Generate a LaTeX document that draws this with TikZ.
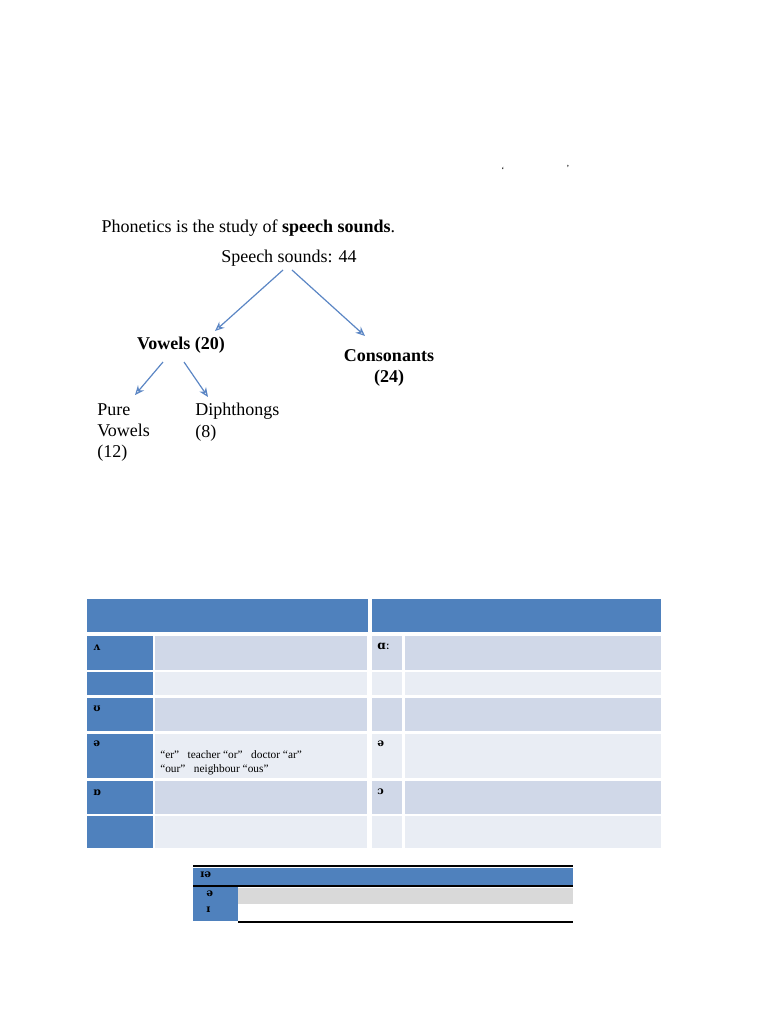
\documentclass[tikz,border=0pt]{standalone}
\usepackage{fontspec}
\setmainfont{Liberation Serif}
\newfontfamily\ipa{DejaVu Serif}
\usetikzlibrary{arrows.meta, positioning}
\definecolor{hdblue}{HTML}{4F81BD}
\definecolor{rowdark}{HTML}{D0D8E8}
\definecolor{rowlight}{HTML}{E9EDF4}
\definecolor{arrblue}{HTML}{5B86C4}
\begin{document}
\begin{tikzpicture}[x=0.75pt, y=-0.75pt,
  every node/.style={font=\fontsize{13.5}{16}\selectfont},
  tree/.style={-{Stealth[length=7pt,width=6pt,open]}, arrblue, line width=0.9pt},
  sym/.style={anchor=north west, inner sep=0pt, font=\ipa\bfseries\fontsize{8}{9}\selectfont},
  small/.style={anchor=north west, inner sep=0pt, align=left, font=\fontsize{8.5}{10.5}\selectfont}]
  \useasboundingbox (0,0) rectangle (768,1024);

  % Stray quotes
  \node (ql) at (503,170) {\fontsize{7}{8}\selectfont ‘};
  \node (qr) at (568,168) {\fontsize{7}{8}\selectfont ’};

  % Tree
  \node (title) [anchor=west] at (97,228) {Phonetics is the study of \textbf{speech sounds}.};
  \node (root) at (289,258) {Speech sounds: 44};
  \node (vow) at (181,345) {\textbf{Vowels (20)}};
  \node (cons) [align=center] at (389,368) {\textbf{Consonants}\\\textbf{(24)}};
  \node (pure) [anchor=north west, align=left, inner sep=0pt] at (97,403) {Pure\\Vowels\\(12)};
  \node (diph) [anchor=north west, align=left, inner sep=0pt] at (195,403) {Diphthongs\\(8)};
  \coordinate (r1) at (283,270);
  \coordinate (r2) at (292,270);
  \coordinate (v1) at (163,362);
  \coordinate (v2) at (184,362);
  \draw[tree] (r1) -- (215,331);
  \draw[tree] (r2) -- (365,336);
  \draw[tree] (v1) -- (135,395);
  \draw[tree] (v2) -- (208,397);

  % Vowel table
  \fill[hdblue] (87,599) rectangle (368,632);
  \fill[hdblue] (372,599) rectangle (661,632);
  \foreach \ya/\yb/\c in {636/670/rowdark, 672/695/rowlight, 698/731/rowdark,
                          734/778/rowlight, 781/814/rowdark, 816/848/rowlight} {
    \fill[hdblue] (87,\ya) rectangle (153,\yb);
    \fill[\c] (155,\ya) rectangle (367,\yb);
    \fill[\c] (372,\ya) rectangle (402,\yb);
    \fill[\c] (405,\ya) rectangle (661,\yb);
  }
  \node (s1) [sym] at (93,645) {ʌ};
  \node (s2) [sym] at (93,706) {ʊ};
  \node (s3) [sym] at (93,741) {ə};
  \node (s4) [sym] at (93,790) {ɒ};
  \node (t1) [sym, font=\ipa\bfseries\fontsize{9}{10}\selectfont] at (377,643) {ɑː};
  \node (t2) [sym] at (377,741) {ə};
  \node (t3) [sym] at (377,789) {ɔ};
  \node (ex) [small] at (160,750) {“er”\ \ \ teacher “or”\ \ \ doctor “ar”\\“our”\ \ \ neighbour “ous”};

  % Diphthong table
  \fill[hdblue] (193,868) rectangle (573,885);
  \fill[hdblue] (193,887) rectangle (238,921);
  \fill[black!15] (238,888) rectangle (573,904);
  \draw[line width=2.2pt] (193,866) -- (573,866);
  \draw[line width=2.2pt] (193,886) -- (573,886);
  \draw[line width=2pt] (238,922) -- (573,922);
  \node (d0) [sym] at (200,872) {ɪə};
  \node (d1) [sym] at (206,891) {ə};
  \node (d2) [sym] at (206,907) {ɪ};
\end{tikzpicture}
\end{document}
